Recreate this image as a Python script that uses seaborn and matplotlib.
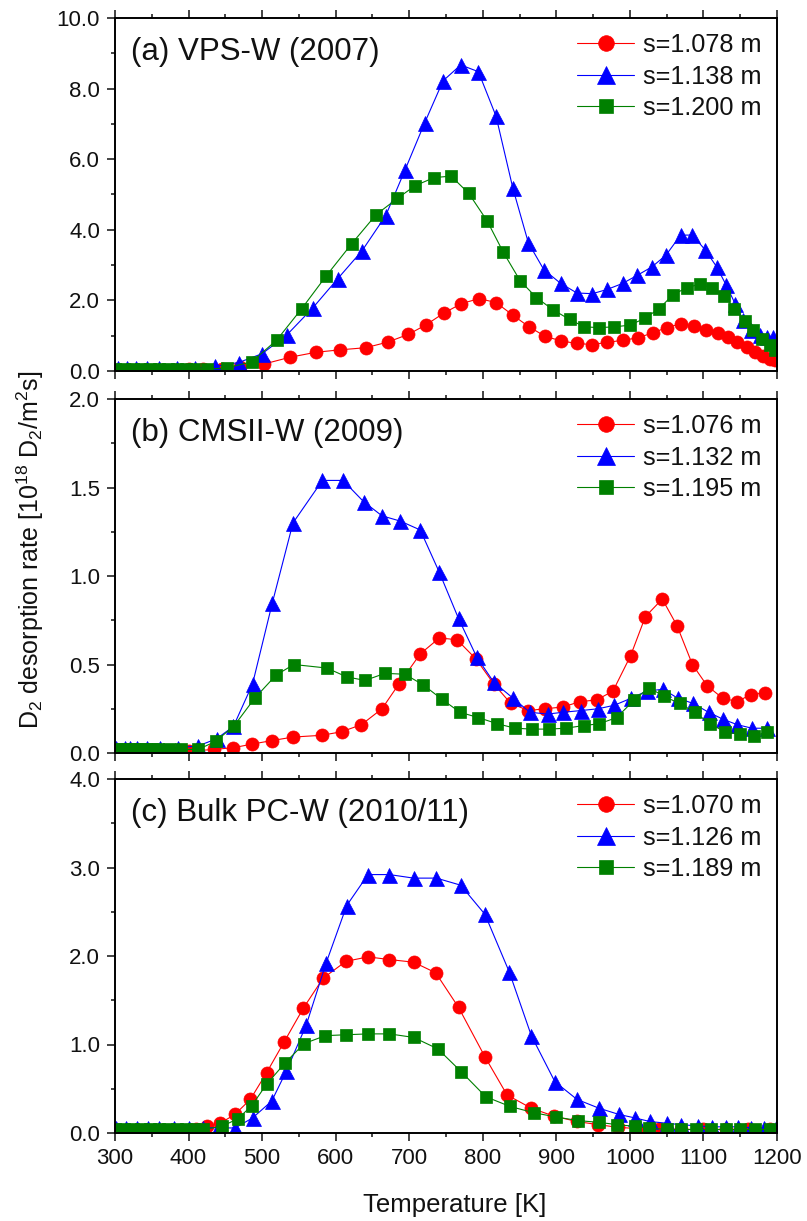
import matplotlib
matplotlib.use("Agg")
import matplotlib.pyplot as plt
from matplotlib.ticker import MultipleLocator, FormatStrFormatter
import seaborn as sns

# ---- panel (a) VPS-W (2007) ----
a_T_red = [300, 320, 340, 360, 380, 400, 420, 445, 470, 503, 538, 573, 606, 641, 671,
           699, 723, 747, 771, 795, 818, 841, 863, 885, 907, 928, 949, 969, 990, 1011,
           1031, 1050, 1070, 1087, 1103, 1120, 1134, 1146, 1159, 1170, 1181, 1190, 1197]
a_red = [0.04, 0.04, 0.04, 0.04, 0.04, 0.05, 0.05, 0.06, 0.10, 0.20, 0.39, 0.53, 0.60, 0.66, 0.82,
         1.04, 1.31, 1.64, 1.91, 2.05, 1.94, 1.58, 1.25, 0.98, 0.85, 0.78, 0.75, 0.81, 0.87, 0.94,
         1.08, 1.23, 1.34, 1.27, 1.17, 1.08, 0.96, 0.82, 0.68, 0.54, 0.42, 0.35, 0.30]
a_T_blue = [304, 316, 328, 343, 360, 384, 409, 436, 468, 500, 534, 569, 603, 636, 668,
            694, 721, 746, 770, 794, 818, 841, 862, 883, 906, 928, 949, 969, 990, 1010,
            1030, 1049, 1069, 1085, 1102, 1118, 1131, 1143, 1154, 1165, 1177, 1186, 1195]
a_blue = [0.09, 0.09, 0.09, 0.09, 0.09, 0.09, 0.08, 0.13, 0.24, 0.49, 1.03, 1.79, 2.62, 3.41, 4.40,
          5.68, 7.03, 8.22, 8.67, 8.48, 7.22, 5.17, 3.63, 2.87, 2.48, 2.21, 2.19, 2.31, 2.48, 2.71,
          2.95, 3.28, 3.85, 3.85, 3.44, 2.95, 2.43, 1.91, 1.44, 1.15, 1.01, 0.96, 0.95]
a_T_green = [300, 312, 324, 336, 348, 360, 372, 384, 396, 408, 425, 452, 486, 520, 554,
             587, 622, 655, 684, 708, 734, 757, 781, 806, 828, 851, 873, 895, 918, 938,
             958, 979, 1000, 1020, 1040, 1058, 1077, 1095, 1112, 1128, 1142, 1156, 1168, 1180, 1190, 1197]
a_green = [0.05, 0.05, 0.05, 0.05, 0.05, 0.05, 0.05, 0.05, 0.05, 0.05, 0.05, 0.09, 0.26, 0.88, 1.77,
           2.69, 3.61, 4.43, 4.89, 5.25, 5.48, 5.52, 5.03, 4.25, 3.36, 2.55, 2.08, 1.74, 1.46, 1.25,
           1.23, 1.25, 1.30, 1.49, 1.77, 2.15, 2.36, 2.46, 2.36, 2.12, 1.77, 1.42, 1.15, 0.92, 0.73, 0.59]

# ---- panel (b) CMSII-W (2009) ----
b_T_red = [300, 325, 350, 375, 400, 434, 461, 486, 513, 542, 581, 608, 635, 663, 686,
           715, 741, 765, 791, 815, 838, 862, 885, 909, 932, 955, 977, 1001, 1021, 1044,
           1064, 1085, 1105, 1126, 1146, 1164, 1184]
b_red = [0.01, 0.01, 0.01, 0.01, 0.01, 0.02, 0.03, 0.05, 0.07, 0.09, 0.10, 0.12, 0.16, 0.25, 0.39,
         0.56, 0.65, 0.64, 0.53, 0.39, 0.28, 0.24, 0.25, 0.26, 0.29, 0.30, 0.35, 0.55, 0.77, 0.87,
         0.72, 0.50, 0.38, 0.31, 0.29, 0.33, 0.34]
b_T_blue = [302, 313, 321, 330, 343, 361, 385, 413, 438, 461, 487, 514, 542, 582, 610,
            638, 663, 688, 715, 741, 767, 792, 815, 841, 864, 888, 909, 934, 957, 979,
            1002, 1023, 1045, 1065, 1086, 1107, 1127, 1146, 1166, 1186]
b_blue = [0.03, 0.03, 0.03, 0.03, 0.03, 0.03, 0.03, 0.04, 0.08, 0.15, 0.39, 0.85, 1.30, 1.54, 1.54,
          1.42, 1.34, 1.31, 1.26, 1.02, 0.76, 0.54, 0.40, 0.31, 0.23, 0.22, 0.23, 0.24, 0.25, 0.27,
          0.31, 0.35, 0.36, 0.31, 0.28, 0.23, 0.19, 0.16, 0.14, 0.14]
b_T_green = [302, 310, 318, 326, 334, 342, 350, 358, 374, 390, 413, 437, 462, 490, 519,
             543, 588, 615, 640, 667, 694, 719, 744, 769, 794, 820, 844, 867, 890, 913,
             937, 958, 982, 1006, 1026, 1046, 1068, 1088, 1109, 1129, 1150, 1169, 1187]
b_green = [0.02, 0.02, 0.02, 0.02, 0.02, 0.02, 0.02, 0.02, 0.02, 0.02, 0.02, 0.066, 0.154, 0.31, 0.44,
           0.50, 0.48, 0.43, 0.41, 0.45, 0.445, 0.385, 0.305, 0.23, 0.20, 0.165, 0.14, 0.135, 0.135, 0.14,
           0.155, 0.165, 0.20, 0.30, 0.37, 0.32, 0.28, 0.23, 0.165, 0.12, 0.105, 0.095, 0.12]

# ---- panel (c) Bulk PC-W (2010/11) ----
c_T_red = [300, 330, 360, 390, 410, 425, 443, 463, 484, 506, 530, 556, 583, 614, 644,
           673, 706, 736, 767, 803, 833, 866, 897, 928, 957, 984, 1010, 1040, 1070, 1100,
           1130, 1160, 1190]
c_red = [0.03, 0.03, 0.03, 0.03, 0.04, 0.075, 0.11, 0.21, 0.38, 0.68, 1.03, 1.41, 1.75, 1.94, 1.99,
         1.96, 1.93, 1.81, 1.42, 0.86, 0.43, 0.28, 0.19, 0.13, 0.094, 0.064, 0.05, 0.04, 0.04, 0.04,
         0.04, 0.04, 0.04]
c_T_blue = [302, 315, 330, 345, 360, 380, 400, 420, 440, 463, 487, 513, 533, 560, 587,
            615, 644, 673, 706, 737, 770, 803, 836, 866, 898, 928, 958, 985, 1007, 1027,
            1050, 1070, 1092, 1112, 1130, 1147, 1165, 1183, 1198]
c_blue = [0.06, 0.06, 0.06, 0.06, 0.06, 0.06, 0.06, 0.06, 0.06, 0.056, 0.17, 0.36, 0.70, 1.22, 1.92,
          2.57, 2.92, 2.92, 2.88, 2.88, 2.80, 2.47, 1.82, 1.10, 0.58, 0.38, 0.28, 0.21, 0.17, 0.13,
          0.11, 0.094, 0.08, 0.07, 0.07, 0.07, 0.06, 0.06, 0.06]
c_T_green = [300, 312, 324, 336, 348, 360, 372, 384, 396, 408, 420, 445, 467, 486, 506,
             531, 557, 586, 614, 644, 673, 706, 739, 771, 804, 837, 869, 900, 930, 958,
             983, 1007, 1026, 1050, 1070, 1090, 1110, 1130, 1150, 1170, 1190]
c_green = [0.04, 0.04, 0.04, 0.04, 0.04, 0.04, 0.04, 0.04, 0.04, 0.04, 0.04, 0.075, 0.16, 0.31, 0.55,
           0.79, 1.01, 1.10, 1.11, 1.12, 1.12, 1.08, 0.95, 0.69, 0.41, 0.30, 0.23, 0.18, 0.14, 0.12,
           0.094, 0.075, 0.056, 0.04, 0.04, 0.04, 0.04, 0.04, 0.04, 0.04, 0.04]

titles = ["(a) VPS-W (2007)", "(b) CMSII-W (2009)", "(c) Bulk PC-W (2010/11)"]
labels = [["s=1.078 m", "s=1.138 m", "s=1.200 m"],
          ["s=1.076 m", "s=1.132 m", "s=1.195 m"],
          ["s=1.070 m", "s=1.126 m", "s=1.189 m"]]
y_max = [10.0, 2.0, 4.0]
y_major = [2.0, 0.5, 1.0]

series = [
    [(a_T_red, a_red), (a_T_blue, a_blue), (a_T_green, a_green)],
    [(b_T_red, b_red), (b_T_blue, b_blue), (b_T_green, b_green)],
    [(c_T_red, c_red), (c_T_blue, c_blue), (c_T_green, c_green)],
]

colors = ["#ff0000", "#0000ff", "#008000"]
markers = ["o", "^", "s"]
msizes = [9.4, 10.8, 8.6]

sns.set_style("ticks")
plt.rcParams["font.family"] = ["Liberation Sans", "DejaVu Sans"]
plt.rcParams["mathtext.default"] = "regular"
plt.rcParams["text.color"] = "#111111"
plt.rcParams["xtick.color"] = "#111111"
plt.rcParams["ytick.color"] = "#111111"

fig = plt.figure(figsize=(8.07, 12.21), dpi=100)
W, H = 807, 1221
left, right = 115, 777
boxes = [(18, 371), (399, 753), (779, 1133)]

for i, (top, bot) in enumerate(boxes):
    ax = fig.add_axes([left / W, 1 - bot / H, (right - left) / W, (bot - top) / H])
    for k, (T, v) in enumerate(series[i]):
        sns.lineplot(x=T, y=v, ax=ax, color=colors[k], marker=markers[k],
                     markersize=msizes[k], markeredgecolor=colors[k], markeredgewidth=0.5,
                     linewidth=0.8, label=labels[i][k], errorbar=None, sort=False)

    ax.set_xlim(300, 1200)
    ax.set_ylim(0, y_max[i])
    ax.xaxis.set_major_locator(MultipleLocator(100))
    ax.xaxis.set_minor_locator(MultipleLocator(50))
    ax.yaxis.set_major_locator(MultipleLocator(y_major[i]))
    ax.yaxis.set_minor_locator(MultipleLocator(y_major[i] / 2))
    ax.yaxis.set_major_formatter(FormatStrFormatter("%.1f"))

    for s in ax.spines.values():
        s.set_visible(True)
        s.set_linewidth(1.4)
        s.set_color("black")

    ax.tick_params(axis="x", which="both", direction="out", top=True, bottom=True,
                   labelbottom=(i == 2), labeltop=False, width=1.1, labelsize=16, pad=5)
    ax.tick_params(axis="y", which="both", direction="out", left=True, right=False,
                   width=1.1, labelsize=16, pad=5)
    ax.tick_params(which="major", length=5.8)
    ax.tick_params(which="minor", length=2.9)

    ax.text(0.024, 0.881, titles[i], transform=ax.transAxes, fontsize=22.5, va="baseline")

    ax.legend(loc="upper right", frameon=False, fontsize=18.2, handlelength=2.25,
              handletextpad=0.37, labelspacing=0.3, borderaxespad=0.2, markerscale=1.2)
    ax.set_ylabel("")
    ax.set_xlabel("")

fig.text(455 / W, 1 - 1212 / H, "Temperature [K]", ha="center", va="baseline", fontsize=18.5)
fig.text(30 / W, 1 - 550 / H, "D$_2$ desorption rate [10$^{18}$ D$_2$/m$^2$s]",
         rotation=90, ha="center", va="center", fontsize=18)

fig.savefig("out.png", dpi=100)
